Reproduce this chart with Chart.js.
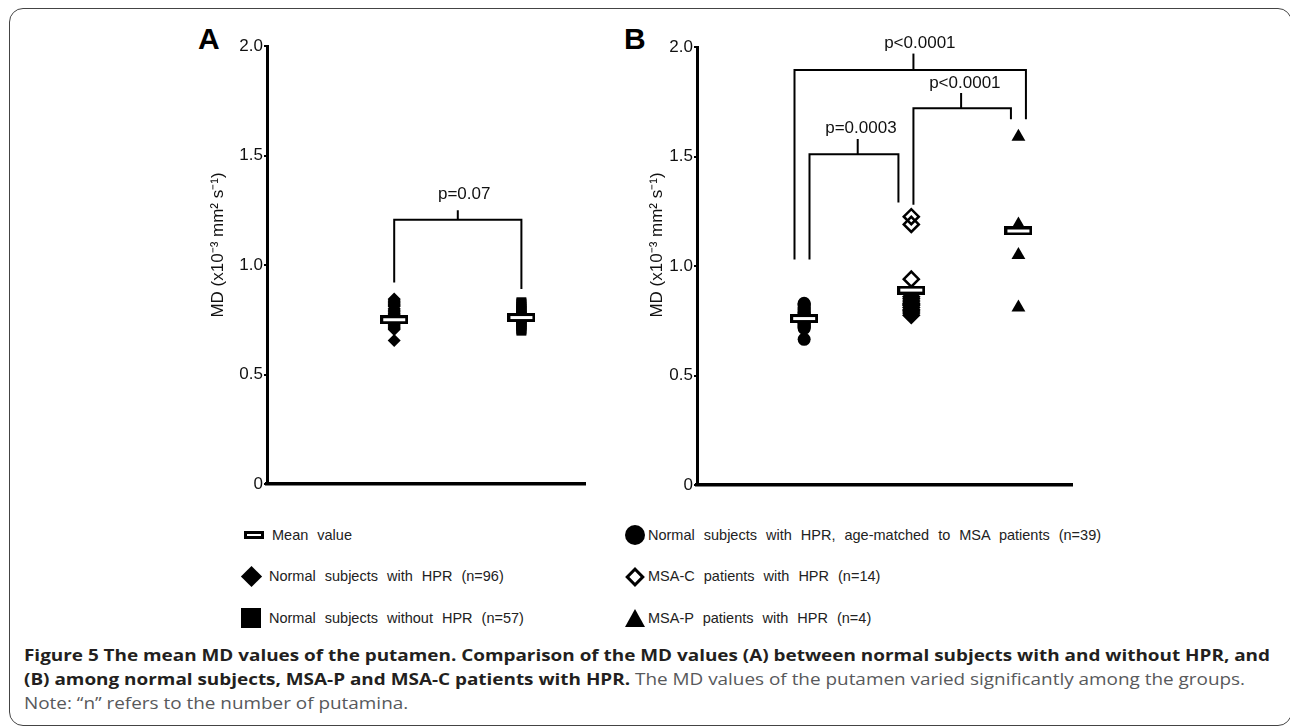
<!DOCTYPE html>
<html>
<head>
<meta charset="utf-8">
<script src="https://cdn.jsdelivr.net/npm/chart.js@4.4.1/dist/chart.umd.min.js"></script>
<style>
  html, body { margin: 0; padding: 0; background: #fff; }
  body { width: 1290px; height: 727px; position: relative; overflow: hidden; font-family: "Liberation Sans", Arial, sans-serif; }
  #frame { position: absolute; left: 9px; top: 8px; width: 1283px; height: 718px; box-sizing: border-box;
           border: 1.5px solid #444; border-radius: 14px; }
  .panel { position: absolute; top: 0; height: 500px; }
  #panelA { left: 150px; width: 450px; }
  #panelB { left: 610px; width: 480px; }
  .letter { position: absolute; top: 24px; font: bold 30px/30px "Liberation Sans", Arial, sans-serif; color: #000; }
  .leg { position: absolute; height: 22px; font-size: 14.5px; line-height: 22px; color: #222; word-spacing: 5px; white-space: nowrap; }
  .mk { position: absolute; box-sizing: border-box; }
  #caption { position: absolute; left: 24px; top: 643px; transform-origin: 0 0; font-family: "Open Sans", sans-serif;
             font-size: 16px; line-height: 24px; color: #58595b; white-space: nowrap; }
  #caption b { color: #231f20; font-weight: bold; }
</style>
</head>
<body>
<div id="frame"></div>

<div class="letter" style="left:198px">A</div>
<div class="letter" style="left:624px">B</div>

<div class="panel" id="panelA"><canvas id="chartA"></canvas></div>
<div class="panel" id="panelB"><canvas id="chartB"></canvas></div>

<!-- legend, left column -->
<div class="mk" style="left:244px;top:531px;width:20px;height:8px;border:3px solid #000;background:#fff"></div>
<div class="leg" style="left:272px;top:524px">Mean value</div>
<div class="mk" style="left:244px;top:569px;width:15px;height:15px;background:#000;transform:rotate(45deg)"></div>
<div class="leg" style="left:269px;top:565px">Normal subjects with HPR (n=96)</div>
<div class="mk" style="left:241px;top:608px;width:20px;height:20px;background:#000"></div>
<div class="leg" style="left:269px;top:607px">Normal subjects without HPR (n=57)</div>

<!-- legend, right column -->
<div class="mk" style="left:625px;top:525px;width:20px;height:20px;border-radius:50%;background:#000"></div>
<div class="leg" style="left:648px;top:524px">Normal subjects with HPR, age-matched to MSA patients (n=39)</div>
<div class="mk" style="left:628px;top:570px;width:14px;height:14px;border:3px solid #000;background:#fff;transform:rotate(45deg)"></div>
<div class="leg" style="left:648px;top:565px">MSA-C patients with HPR (n=14)</div>
<div class="mk" style="left:625px;top:609px;width:0;height:0;border-left:10px solid transparent;border-right:10px solid transparent;border-bottom:18px solid #000"></div>
<div class="leg" style="left:648px;top:607px">MSA-P patients with HPR (n=4)</div>

<div id="caption">
  <div id="capLine1"><b>Figure 5 The mean MD values of the putamen. Comparison of the MD values (A) between normal subjects with and without HPR, and</b></div>
  <div><b>(B) among normal subjects, MSA-P and MSA-C patients with HPR.</b> The MD values of the putamen varied significantly among the groups.</div>
  <div>Note: “n” refers to the number of putamina.</div>
</div>

<script>
// ---- data (MD, x10^-3 mm^2 s^-1) ----
const yTicks = [0, 0.5, 1.0, 1.5, 2.0];
const yTickLabels = ['0', '0.5', '1.0', '1.5', '2.0'];
const axisTitle = 'MD (x10\u207B\u00B3 mm\u00B2 s\u207B\u00B9)';

// panel A: x = 1 with HPR, x = 2 without HPR
const withHprA = [0.845, 0.84, 0.835, 0.83, 0.825, 0.82, 0.815, 0.81, 0.80, 0.795, 0.79, 0.785, 0.78, 0.775,
                  0.77, 0.765, 0.76, 0.755, 0.75, 0.745, 0.74, 0.735, 0.73, 0.725, 0.72, 0.715, 0.71, 0.705, 0.655];
const withoutHprA = [0.83, 0.825, 0.82, 0.81, 0.80, 0.79, 0.785, 0.78, 0.775, 0.77, 0.765, 0.76, 0.755, 0.75,
                     0.745, 0.74, 0.73, 0.725, 0.72, 0.71, 0.705, 0.70];
const meanA = [0.75, 0.76];

// panel B: x = 1 age-matched normals, x = 2 MSA-C, x = 3 MSA-P
const ageMatchedB = [0.83, 0.825, 0.82, 0.81, 0.805, 0.80, 0.79, 0.785, 0.78, 0.775, 0.77, 0.765, 0.76, 0.755,
                     0.75, 0.745, 0.74, 0.735, 0.73, 0.725, 0.72, 0.715, 0.665];
const msaC = [1.225, 1.19, 0.94, 0.86, 0.85, 0.84, 0.83, 0.825, 0.82, 0.81, 0.80, 0.795, 0.785, 0.775];
const msaP = [1.59, 1.19, 1.05, 0.81];
const meanB = [0.76, 0.89, 1.16];

// significance brackets: [left x, right x, bar y, left leg end, right leg end, tick x, tick top]
const bracketsA = [[1.0, 2.0, 1.207, 0.92, 0.89, 1.5, 1.25]];
const pTextA = ['p=0.07'];
const pPosA = [[1.55, 1.285]];
const bracketsB = [
  [1.05, 1.88, 1.51, 1.03, 1.29, 1.50, 1.58],
  [2.02, 2.93, 1.72, 1.28, 1.67, 2.465, 1.79],
  [0.91, 3.07, 1.895, 1.03, 1.67, 2.02, 1.97]
];
const pTextB = ['p=0.0003', 'p<0.0001', 'p<0.0001'];
const pPosB = [[1.53, 1.589], [2.50, 1.795], [2.08, 1.977]];

// ---- marker for the mean value ----
const meanMark = document.createElement('canvas');
meanMark.width = 28;
meanMark.height = 9;
(() => {
  const c = meanMark.getContext('2d');
  c.fillStyle = '#000';
  c.fillRect(0, 0, 28, 9);
  c.fillStyle = '#fff';
  c.fillRect(3, 3, 22, 3);
})();

const pts = (x, arr) => arr.map(v => ({ x: x, y: v }));

const bracketSets = (list) => {
  const out = [];
  list.forEach(b => {
    const [l, r, h, le, re, m, t] = b;
    const line = { type: 'line', showLine: true, pointRadius: 0, borderColor: '#000', borderWidth: 2,
                   fill: false, tension: 0, order: 10 };
    out.push(Object.assign({}, line, { data: [{ x: l, y: le }, { x: l, y: h }, { x: r, y: h }, { x: r, y: re }] }));
    out.push(Object.assign({}, line, { data: [{ x: m, y: h }, { x: m, y: t }] }));
  });
  return out;
};

// p-value labels and the y-axis title are drawn against the chart scales
const annotate = {
  id: 'annotate',
  afterDatasetsDraw(chart, args, opts) {
    const { ctx, chartArea, scales } = chart;
    ctx.save();
    ctx.fillStyle = '#111';
    ctx.font = '17px "Liberation Sans", Arial, sans-serif';
    ctx.textAlign = 'center';
    ctx.textBaseline = 'bottom';
    opts.texts.forEach((t, i) => {
      ctx.fillText(t, scales.x.getPixelForValue(opts.pos[i][0]), scales.y.getPixelForValue(opts.pos[i][1]));
    });
    ctx.translate(chartArea.left + opts.titleDx, chartArea.top + opts.titleDy);
    ctx.rotate(-Math.PI / 2);
    ctx.textBaseline = 'middle';
    ctx.fillText(axisTitle, 0, 0);
    ctx.restore();
  }
};

const makeChart = (id, xMax, yWidth, pad, datasets, texts, pos, titleDx, titleDy) => {
  return new Chart(document.getElementById(id), {
    type: 'scatter',
    data: { datasets: datasets },
    plugins: [annotate],
    options: {
      responsive: false,
      animation: false,
      events: [],
      layout: { padding: pad },
      plugins: {
        legend: { display: false },
        tooltip: { enabled: false },
        annotate: { texts: texts, pos: pos, titleDx: titleDx, titleDy: titleDy }
      },
      scales: {
        x: {
          type: 'linear', min: 0, max: xMax,
          ticks: { display: false },
          grid: { display: false },
          border: { display: true, color: '#000', width: 3.5 },
          afterFit: (s) => { s.height = 0; }
        },
        y: {
          type: 'linear', min: 0, max: 2,
          afterBuildTicks: (s) => { s.ticks = yTicks.map(v => ({ value: v })); },
          ticks: {
            padding: 1, color: '#111',
            font: { family: '"Liberation Sans", Arial, sans-serif', size: 17 },
            callback: (v) => yTickLabels[yTicks.indexOf(v)]
          },
          grid: { drawOnChartArea: false, drawTicks: true, tickLength: 3, color: '#000', lineWidth: 2 },
          border: { display: true, color: '#000', width: 3 },
          afterFit: (s) => { s.width = yWidth; }
        }
      }
    }
  });
};

const sizeCanvas = (id, w, h) => {
  const c = document.getElementById(id);
  c.width = w; c.height = h;
  c.style.width = w + 'px'; c.style.height = h + 'px';
};
sizeCanvas('chartA', 450, 500);
sizeCanvas('chartB', 480, 500);

const dataA = [
  { label: 'Mean value', data: pts(1, [meanA[0]]).concat(pts(2, [meanA[1]])), pointStyle: meanMark, pointRadius: 14, order: 0 },
  { label: 'Normal subjects with HPR (n=96)', data: pts(1, withHprA), pointStyle: 'rectRot', pointRadius: 6.5,
    backgroundColor: '#000', borderWidth: 0, order: 1 },
  { label: 'Normal subjects without HPR (n=57)', data: pts(2, withoutHprA), pointStyle: 'rect', pointRadius: 7,
    backgroundColor: '#000', borderWidth: 0, order: 1 }
].concat(bracketSets(bracketsA));

const dataB = [
  { label: 'MSA-P patients with HPR (n=4)', data: pts(3, msaP), pointStyle: 'triangle', pointRadius: 8,
    backgroundColor: '#000', borderWidth: 0, order: 0 },
  { label: 'Mean value', data: meanB.map((v, i) => ({ x: i + 1, y: v })), pointStyle: meanMark, pointRadius: 14, order: 1 },
  { label: 'Normal subjects with HPR, age-matched to MSA patients (n=39)', data: pts(1, ageMatchedB), pointStyle: 'circle',
    pointRadius: 6.5, backgroundColor: '#000', borderWidth: 0, order: 2 },
  { label: 'MSA-C patients with HPR (n=14)', data: pts(2, msaC), pointStyle: 'rectRot', pointRadius: 7.5,
    backgroundColor: 'rgba(0,0,0,0)', borderColor: '#000', borderWidth: 2.5, order: 2 }
].concat(bracketSets(bracketsB));

makeChart('chartA', 2.5, 117, { left: 0, top: 46, right: 15, bottom: 16 }, dataA, pTextA, pPosA, -49, 199);
makeChart('chartB', 3.5, 87, { left: 0, top: 47, right: 18, bottom: 15 }, dataB, pTextB, pPosB, -40, 198);

// fit the caption's first line to the figure width
const cap = document.getElementById('caption');
const w1 = document.getElementById('capLine1').firstElementChild.getBoundingClientRect().width;
cap.style.transform = 'scaleX(' + (1246 / w1) + ')';
</script>
</body>
</html>
